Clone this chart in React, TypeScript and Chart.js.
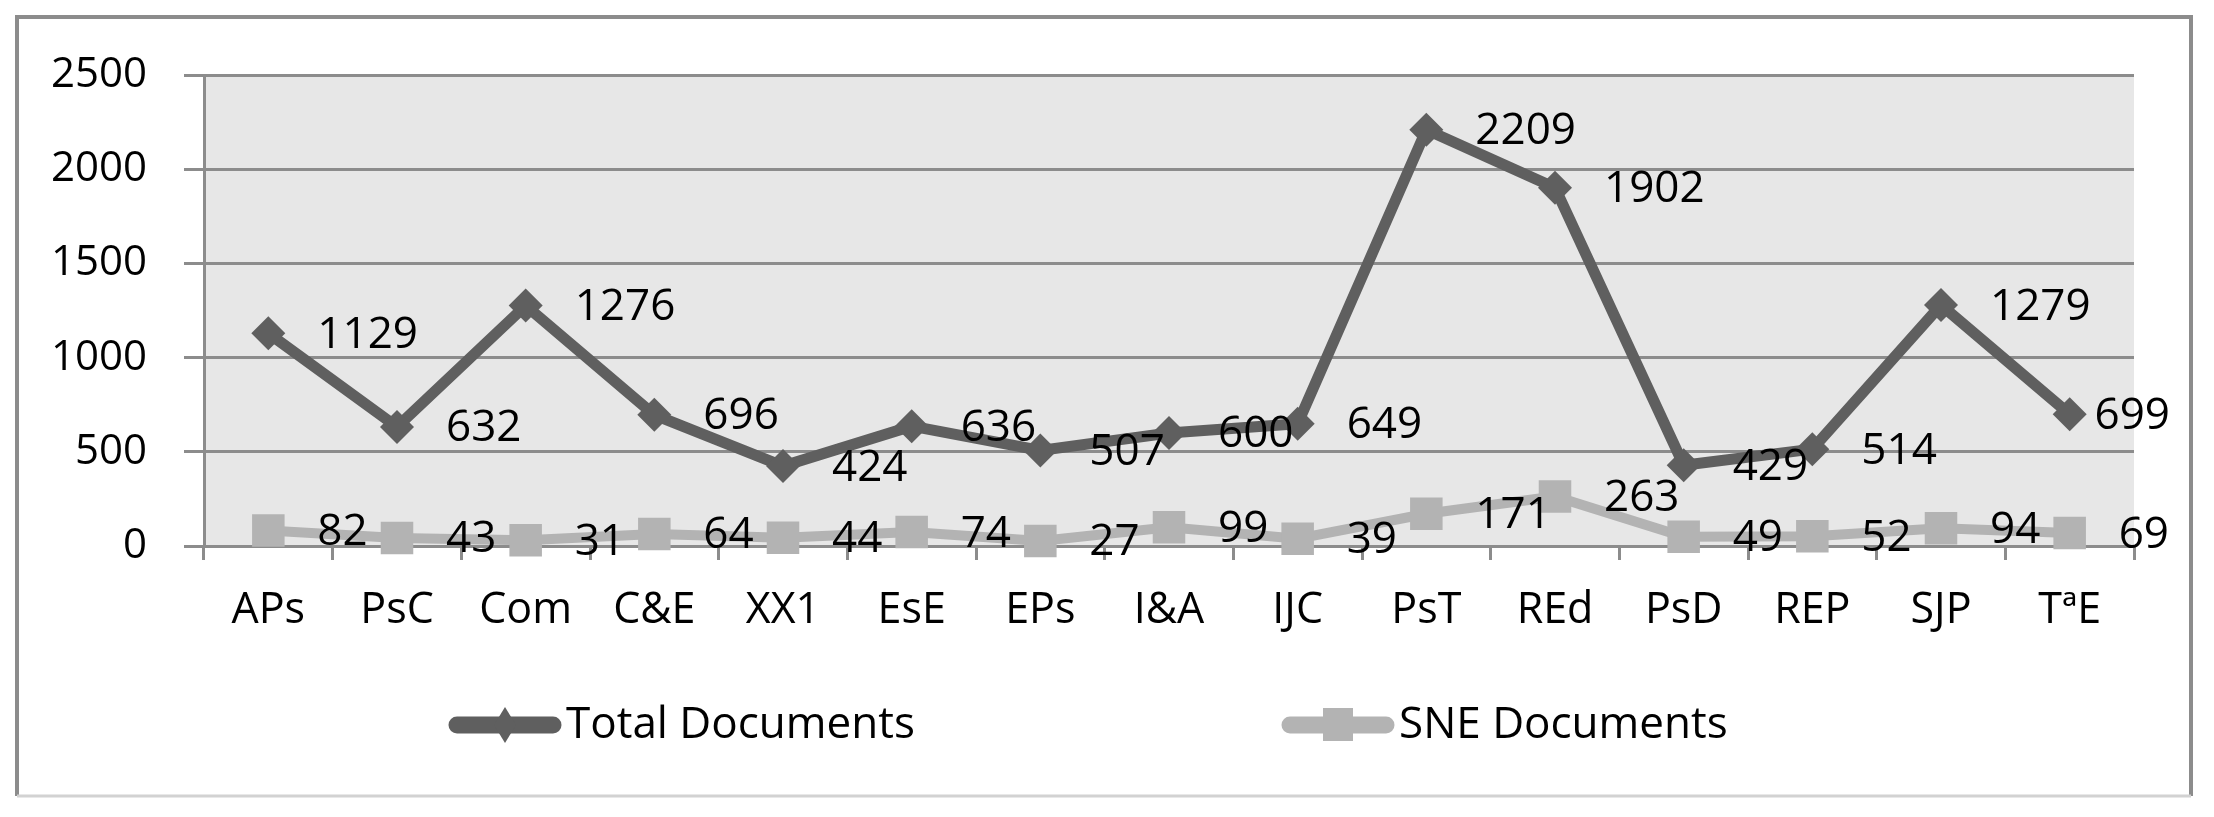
import React, { useEffect, useRef } from "react";
import { Chart, registerables } from "chart.js";

Chart.register(...registerables);

// ---- data ----
const categories = ["APs", "PsC", "Com", "C&E", "XX1", "EsE", "EPs", "I&A", "IJC", "PsT", "REd", "PsD", "REP", "SJP", "TªE"];
const totalDocuments = [1129, 632, 1276, 696, 424, 636, 507, 600, 649, 2209, 1902, 429, 514, 1279, 699];
const sneDocuments = [82, 43, 31, 64, 44, 74, 27, 99, 39, 171, 263, 49, 52, 94, 69];
const seriesNames = ["Total Documents", "SNE Documents"];
const yMin = 0;
const yMax = 2500;
const yStep = 500;

// ---- styles ----
const FONT = "'Open Sans', 'Noto Sans', sans-serif";
const FS_AXIS = 42;
const FS_XAXIS = 43;
const FS_LABEL = 44;
const FS_LEGEND = 44;
const DARK = "#5f5f5f";
const LIGHT = "#b3b3b3";
const GRID = "#8c8c8c";
const PLOT_BG = "#e7e7e7";

const W = 2214;
const H = 817;

const backgroundPlugin = {
  id: "bgAndFrame",
  beforeDraw(chart: any) {
    const { ctx, chartArea } = chart;
    ctx.save();
    ctx.fillStyle = "#ffffff";
    ctx.fillRect(0, 0, chart.width, chart.height);
    // outer frame
    ctx.strokeStyle = GRID;
    ctx.lineWidth = 4;
    ctx.beginPath();
    ctx.moveTo(17, 796);
    ctx.lineTo(17, 17);
    ctx.lineTo(2191, 17);
    ctx.lineTo(2191, 796);
    ctx.stroke();
    ctx.strokeStyle = "#d2d2d2";
    ctx.lineWidth = 3;
    ctx.beginPath();
    ctx.moveTo(17, 796);
    ctx.lineTo(2191, 796);
    ctx.stroke();
    // plot area
    ctx.fillStyle = PLOT_BG;
    ctx.fillRect(chartArea.left, chartArea.top, chartArea.right - chartArea.left, chartArea.bottom - chartArea.top);
    ctx.restore();
  },
};

const dataLabelPlugin = {
  id: "valueLabels",
  afterDatasetsDraw(chart: any) {
    const { ctx, chartArea } = chart;
    ctx.save();
    ctx.font = `${FS_LABEL}px ${FONT}`;
    ctx.fillStyle = "#000000";
    ctx.textBaseline = "middle";
    ctx.textAlign = "left";
    const maxRight = chartArea.right + 36;
    chart.data.datasets.forEach((ds: any, i: number) => {
      const meta = chart.getDatasetMeta(i);
      meta.data.forEach((pt: any, j: number) => {
        const text = String(ds.data[j]);
        const w = ctx.measureText(text).width;
        let x = pt.x + 49;
        if (x + w > maxRight) x = maxRight - w;
        ctx.fillText(text, x, pt.y + 2);
      });
    });
    ctx.restore();
  },
};

const legendPlugin = {
  id: "lineLegend",
  afterDraw(chart: any) {
    const { ctx } = chart;
    const y = 725;
    const starts = [449, 1282];
    ctx.save();
    chart.data.datasets.forEach((ds: any, i: number) => {
      const x0 = starts[i];
      const x1 = x0 + 112;
      const cx = (x0 + x1) / 2;
      ctx.strokeStyle = ds.borderColor;
      ctx.lineWidth = 17;
      ctx.lineCap = "round";
      ctx.beginPath();
      ctx.moveTo(x0 + 8, y);
      ctx.lineTo(x1 - 8, y);
      ctx.stroke();
      ctx.fillStyle = ds.borderColor;
      if (ds.pointStyle === "rectRot") {
        ctx.beginPath();
        ctx.moveTo(cx, y - 18);
        ctx.lineTo(cx + 11, y);
        ctx.lineTo(cx, y + 18);
        ctx.lineTo(cx - 11, y);
        ctx.closePath();
        ctx.fill();
      } else {
        ctx.fillRect(cx - 15, y - 17, 30, 33);
      }
      ctx.font = `${FS_LEGEND}px ${FONT}`;
      ctx.fillStyle = "#000000";
      ctx.textBaseline = "middle";
      ctx.textAlign = "left";
      ctx.fillText(ds.label, x1 + 5, y);
    });
    ctx.restore();
  },
};

export default function App() {
  const canvasRef = useRef<HTMLCanvasElement | null>(null);

  useEffect(() => {
    document.body.style.margin = "0";
    let chart: Chart | null = null;
    let cancelled = false;
    const make = () => {
      if (cancelled || !canvasRef.current) return;
      chart = new Chart(canvasRef.current, {
        type: "line",
        data: {
          labels: categories,
          datasets: [
            {
              label: seriesNames[0],
              data: totalDocuments,
              borderColor: DARK,
              backgroundColor: DARK,
              borderWidth: 11,
              tension: 0,
              pointStyle: "rectRot",
              pointRadius: 17,
              pointBackgroundColor: DARK,
              pointBorderWidth: 0,
              clip: false as any,
            },
            {
              label: seriesNames[1],
              data: sneDocuments,
              borderColor: LIGHT,
              backgroundColor: LIGHT,
              borderWidth: 10,
              tension: 0,
              pointStyle: "rect",
              pointRadius: 23,
              pointBackgroundColor: LIGHT,
              pointBorderWidth: 0,
              clip: false as any,
            },
          ],
        },
        options: {
          responsive: false,
          animation: false,
          devicePixelRatio: 1,
          layout: { padding: { left: 0, top: 75, right: 80, bottom: 171 } },
          plugins: {
            legend: { display: false },
            tooltip: { enabled: false },
          },
          scales: {
            x: {
              type: "category",
              offset: true,
              grid: {
                offset: true,
                drawOnChartArea: false,
                drawTicks: true,
                tickLength: 14,
                color: GRID,
                lineWidth: 3,
              },
              border: { display: true, color: GRID, width: 3 },
              ticks: {
                autoSkip: false,
                maxRotation: 0,
                minRotation: 0,
                padding: 25,
                color: "#000000",
                font: { family: FONT, size: FS_XAXIS, lineHeight: 1.2 },
              },
              afterFit: (scale: any) => {
                scale.height = 100;
              },
            },
            y: {
              min: yMin,
              max: yMax,
              grid: {
                drawTicks: true,
                tickLength: 20,
                color: GRID,
                lineWidth: 3,
              },
              border: { display: true, color: GRID, width: 3 },
              ticks: {
                stepSize: yStep,
                padding: 37,
                color: "#000000",
                font: { family: FONT, size: FS_AXIS },
                callback: (v: any) => String(v),
              },
              afterFit: (scale: any) => {
                scale.width = 204;
              },
            },
          },
        },
        plugins: [backgroundPlugin, dataLabelPlugin, legendPlugin],
      });
    };
    const fontsApi = (document as any).fonts;
    if (fontsApi && fontsApi.load) {
      fontsApi.load(`${FS_AXIS}px 'Open Sans'`).then(make, make);
    } else {
      make();
    }
    return () => {
      cancelled = true;
      if (chart) chart.destroy();
    };
  }, []);

  return (
    <canvas
      ref={canvasRef}
      width={W}
      height={H}
      style={{ position: "absolute", left: 0, top: 0, width: W, height: H, display: "block" }}
    />
  );
}
